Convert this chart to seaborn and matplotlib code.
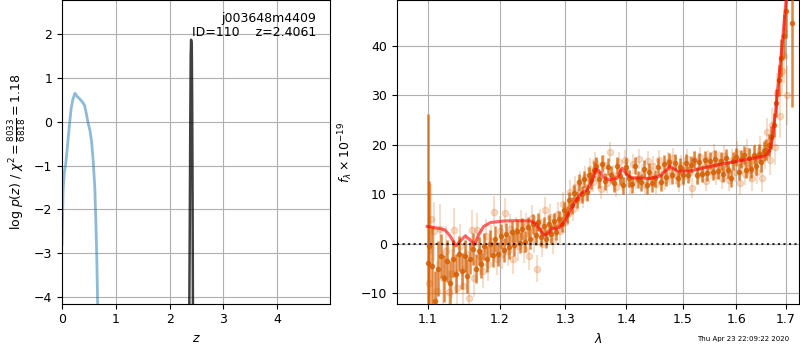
import numpy as np
import pandas as pd
import matplotlib
matplotlib.use("Agg")
import matplotlib.pyplot as plt
import matplotlib.ticker as mticker
import seaborn as sns

plt.rcParams['font.size'] = 9
plt.rcParams['font.family'] = ['DejaVu Sans']

# ---------------- left panel: redshift PDF ----------------
pz_blue_z = [0.00, 0.02, 0.04, 0.07, 0.11, 0.14, 0.17, 0.20, 0.24, 0.28, 0.33, 0.38,
             0.42, 0.45, 0.48, 0.52, 0.55, 0.58, 0.61, 0.63, 0.645, 0.66, 0.67]
pz_blue_lp = [-2.8, -1.6, -1.2, -0.95, -0.45, -0.05, 0.3, 0.5, 0.65, 0.58, 0.52, 0.45,
              0.37, 0.2, 0.0, -0.2, -0.45, -0.9, -1.5, -2.3, -3.0, -4.0, -4.6]
pz_black_z = [2.365, 2.375, 2.385, 2.393, 2.400, 2.407, 2.413, 2.420, 2.427, 2.435]
pz_black_lp = [-4.6, -2.5, 0.0, 1.5, 1.87, 1.8, 1.72, 0.5, -1.5, -4.6]
z_ticks = [0, 1, 2, 3, 4]
title_text = 'j003648m4409\nID=110    z=2.4061'

# ---------------- right panel: 1D spectrum ----------------
bin_wave = [1.100, 1.102, 1.106, 1.110, 1.114, 1.118, 1.122, 1.126, 1.130, 1.134, 1.138, 1.142,
            1.146, 1.150, 1.154, 1.158, 1.162, 1.166, 1.170, 1.174, 1.178, 1.182, 1.186, 1.190,
            1.194, 1.198, 1.202, 1.206, 1.210, 1.214, 1.218, 1.222, 1.226, 1.230, 1.234, 1.238,
            1.242, 1.246, 1.250, 1.254, 1.258, 1.262, 1.266, 1.270, 1.274, 1.278, 1.282, 1.286,
            1.290, 1.294, 1.298, 1.302, 1.306, 1.310, 1.314, 1.318, 1.322, 1.326, 1.330, 1.334,
            1.338, 1.342, 1.346, 1.350, 1.355, 1.360, 1.365, 1.370, 1.375, 1.380, 1.385, 1.390,
            1.395, 1.400, 1.405, 1.410, 1.415, 1.420, 1.425, 1.430, 1.435, 1.440, 1.445, 1.450,
            1.455, 1.460, 1.465, 1.470, 1.475, 1.480, 1.485, 1.490, 1.495, 1.500, 1.505, 1.510,
            1.515, 1.520, 1.525, 1.530, 1.535, 1.540, 1.545, 1.550, 1.555, 1.560, 1.565, 1.570,
            1.575, 1.580, 1.585, 1.590, 1.595, 1.600, 1.605, 1.610, 1.615, 1.620, 1.625, 1.630,
            1.635, 1.640, 1.645, 1.650, 1.655, 1.660, 1.665, 1.670, 1.675, 1.680, 1.685, 1.690,
            1.695, 1.700, 1.712]
bin_flux = [-3.9, -0.5, -4.5, -11.5, -5.0, -2.5, -7.0, -3.5, -8.0, -3.0, -6.0, -2.0,
            -5.5, -2.5, -6.5, -3.0, -1.0, -5.0, -1.5, -4.0, -0.5, -3.0, 0.0, -2.2,
            1.0, -2.0, 1.5, -1.2, 2.0, -0.6, 2.4, -0.2, 2.6, 0.2, 3.0, 0.4,
            3.4, 1.0, 4.0, 1.8, 4.4, 1.4, 3.6, 1.0, 4.0, 2.0, 4.6, 2.4,
            5.0, 4.0, 6.8, 6.0, 8.8, 7.8, 10.2, 9.0, 12.4, 10.0, 13.0, 10.4,
            13.8, 12.8, 15.0, 15.8, 13.0, 16.2, 12.6, 15.6, 14.0, 12.2, 15.8, 13.6,
            11.8, 15.6, 13.2, 12.0, 15.8, 13.0, 12.4, 15.2, 11.8, 14.6, 12.2, 13.2,
            15.6, 12.4, 16.2, 13.4, 16.6, 13.8, 16.4, 13.2, 15.6, 13.8, 16.4, 14.0,
            16.0, 17.0, 13.8, 16.6, 14.2, 17.0, 14.4, 16.8, 14.6, 17.2, 14.8, 16.8,
            14.2, 17.4, 15.0, 13.2, 16.8, 17.6, 14.6, 17.2, 18.0, 15.0, 17.4, 15.2,
            18.0, 15.8, 18.2, 16.6, 18.8, 19.0, 20.0, 21.5, 24.0, 28.5, 33.0, 37.5,
            42.0, 47.0, 44.7]
bin_err = [30.2, 13.2, 8.0, 6.0, 5.5, 4.5, 4.8, 4.2, 4.5, 3.8, 4.0, 3.5,
           3.6, 3.2, 3.4, 3.0, 3.2, 3.0, 2.8, 2.9, 2.7, 2.6, 2.7, 2.5,
           2.6, 2.4, 2.5, 2.4, 2.3, 2.4, 2.2, 2.3, 2.2, 2.1, 2.2, 2.1,
           2.0, 2.1, 2.0, 2.0, 1.9, 1.9, 1.8, 1.9, 1.8, 1.8, 1.7, 1.7,
           1.7, 1.7, 1.7, 1.7, 1.7, 1.7, 1.7, 1.7, 1.7, 1.7, 1.7, 1.7,
           1.7, 1.7, 1.7, 1.7, 1.7, 1.7, 1.7, 1.7, 1.7, 1.7, 1.7, 1.7,
           1.7, 1.7, 1.7, 1.7, 1.7, 1.7, 1.7, 1.7, 1.7, 1.7, 1.7, 1.7,
           1.7, 1.7, 1.7, 1.7, 1.7, 1.7, 1.7, 1.7, 1.7, 1.7, 1.7, 1.7,
           1.7, 1.7, 1.7, 1.7, 1.7, 1.7, 1.7, 1.7, 1.7, 1.7, 1.8, 1.8,
           1.8, 1.8, 1.8, 1.8, 1.8, 1.8, 1.8, 1.8, 1.8, 1.8, 1.9, 1.9,
           1.9, 1.9, 1.9, 2.0, 2.0, 2.1, 2.2, 2.3, 2.5, 2.8, 3.2, 3.8,
           4.5, 5.5, 17.0]

raw_wave = [1.101, 1.104, 1.108, 1.112, 1.116, 1.120, 1.124, 1.128, 1.132, 1.136, 1.140, 1.144,
            1.148, 1.152, 1.156, 1.160, 1.164, 1.168, 1.172, 1.176, 1.180, 1.184, 1.188, 1.192,
            1.196, 1.200, 1.204, 1.208, 1.212, 1.216, 1.220, 1.224, 1.228, 1.232, 1.236, 1.240,
            1.244, 1.248, 1.252, 1.256, 1.260, 1.264, 1.268, 1.272, 1.276, 1.280, 1.284, 1.288,
            1.292, 1.296, 1.300, 1.304, 1.308, 1.312, 1.316, 1.320, 1.324, 1.328, 1.332, 1.336,
            1.340, 1.344, 1.348, 1.352, 1.357, 1.362, 1.367, 1.372, 1.377, 1.382, 1.387, 1.392,
            1.397, 1.402, 1.407, 1.412, 1.417, 1.422, 1.427, 1.432, 1.437, 1.442, 1.447, 1.452,
            1.457, 1.462, 1.467, 1.472, 1.477, 1.482, 1.487, 1.492, 1.497, 1.502, 1.507, 1.512,
            1.517, 1.522, 1.527, 1.532, 1.537, 1.542, 1.547, 1.552, 1.557, 1.562, 1.567, 1.572,
            1.577, 1.582, 1.587, 1.592, 1.597, 1.602, 1.607, 1.612, 1.617, 1.622, 1.627, 1.632,
            1.637, 1.642, 1.647, 1.652, 1.657, 1.662, 1.667, 1.672, 1.677, 1.682, 1.687, 1.692,
            1.697, 1.702]
raw_flux = [-8.0, 5.0, 2.5, -9.5, 3.0, -7.0, -1.5, -9.8, -6.0, 2.8, -9.0, -0.5,
            -8.5, -2.0, -11.0, 2.8, -7.0, 2.8, -2.5, -5.5, 1.5, -4.0, 0.5, 6.5,
            -3.0, 2.5, -2.0, 6.2, -1.5, 3.0, -3.0, 2.5, -0.5, 4.0, -1.0, 3.5,
            -2.5, 5.2, 0.8, -5.0, 4.5, 0.0, 6.8, 2.0, 5.5, 0.5, 3.8, 6.0,
            2.5, 8.0, 4.5, 6.0, 10.5, 7.0, 11.5, 8.8, 12.5, 9.5, 13.5, 11.0,
            15.2, 12.5, 16.5, 13.2, 11.0, 16.0, 12.2, 18.5, 14.0, 11.5, 16.5, 12.8,
            17.0, 14.5, 12.0, 16.2, 13.0, 17.2, 14.2, 11.8, 16.8, 13.6, 15.8, 12.0,
            17.0, 14.2, 12.8, 16.6, 13.8, 17.4, 14.0, 12.4, 16.0, 13.6, 17.2, 14.6,
            11.2, 16.8, 13.8, 17.6, 14.4, 12.6, 17.0, 15.0, 18.2, 14.0, 16.6, 13.2,
            17.8, 15.2, 12.8, 17.0, 14.6, 18.4, 12.2, 16.4, 14.2, 18.8, 15.0, 13.2,
            17.6, 14.6, 19.0, 13.2, 18.0, 22.5, 17.0, 24.0, 19.5, 30.5, 25.8, 35.0,
            38.0, 30.0]
raw_err = [9.0, 7.0, 6.0, 6.0, 5.0, 5.5, 5.0, 4.5, 5.0, 4.5, 4.0, 4.5,
           4.0, 4.0, 4.0, 4.0, 3.8, 3.5, 3.8, 3.5, 3.5, 3.5, 3.4, 3.2,
           3.3, 3.2, 3.0, 3.0, 3.0, 3.0, 3.0, 2.9, 2.9, 2.8, 2.8, 2.8,
           2.8, 2.7, 2.7, 2.7, 2.6, 2.6, 2.6, 2.5, 2.5, 2.5, 2.5, 2.4,
           2.4, 2.4, 2.3, 2.3, 2.3, 2.3, 2.2, 2.2, 2.2, 2.2, 2.2, 2.1,
           2.1, 2.1, 2.1, 2.1, 2.0, 2.0, 2.0, 2.0, 2.0, 2.0, 2.0, 2.0,
           2.0, 2.0, 2.0, 2.0, 2.0, 2.0, 2.0, 2.0, 2.0, 2.0, 2.0, 2.0,
           2.0, 2.0, 2.0, 2.0, 2.0, 2.0, 2.0, 2.0, 2.0, 2.0, 2.0, 2.0,
           2.0, 2.0, 2.0, 2.0, 2.0, 2.0, 2.0, 2.0, 2.0, 2.1, 2.1, 2.1,
           2.1, 2.1, 2.2, 2.2, 2.2, 2.3, 2.3, 2.3, 2.4, 2.4, 2.5, 2.5,
           2.6, 2.6, 2.7, 2.8, 2.9, 3.0, 3.2, 3.4, 3.6, 4.0, 4.5, 5.0,
           5.5, 6.0]

model_wave = [1.099, 1.112, 1.123, 1.130, 1.138, 1.145, 1.151, 1.157, 1.164, 1.170, 1.177, 1.187,
              1.206, 1.226, 1.246, 1.253, 1.261, 1.267, 1.274, 1.279, 1.284, 1.292, 1.300, 1.308,
              1.318, 1.326, 1.335, 1.342, 1.349, 1.354, 1.362, 1.373, 1.384, 1.393, 1.401, 1.410,
              1.424, 1.441, 1.459, 1.467, 1.476, 1.483, 1.491, 1.513, 1.537, 1.562, 1.588, 1.614,
              1.640, 1.654, 1.662, 1.667, 1.671, 1.675, 1.681, 1.686, 1.691, 1.696, 1.701]
model_flux = [3.5, 3.2, 2.8, 1.6, -0.4, 0.7, 1.6, 0.9, -0.2, 1.8, 3.5, 4.3,
              4.6, 4.7, 4.6, 4.2, 2.8, 1.7, 2.2, 3.2, 3.0, 3.4, 4.8, 6.8,
              8.9, 10.3, 10.9, 12.4, 15.1, 14.8, 13.4, 12.9, 13.2, 15.3, 14.0, 13.3,
              13.3, 13.2, 13.7, 14.6, 15.7, 15.2, 14.7, 14.7, 15.3, 15.9, 16.4, 16.9,
              17.4, 17.7, 18.1, 18.8, 20.5, 23.5, 29.0, 34.0, 39.0, 44.5, 50.0]

wave_ticks = [1.1, 1.2, 1.3, 1.4, 1.5, 1.6, 1.7]
wave_ticklabels = ['1.1', '1.2', '1.3', '1.4', '1.5', '1.6', '1.7']
timestamp = 'Thu Apr 23 22:09:22 2020'

G141 = '#d55e00'

fig = plt.figure(figsize=(8, 3.5), dpi=100)
ax1 = fig.add_axes([0.0775, 0.1323, 0.3355, 0.8669])
ax2 = fig.add_axes([0.4959, 0.1323, 0.5033, 0.8669])

# ---- left ----
sns.lineplot(x=pz_blue_z, y=pz_blue_lp, ax=ax1, color='C0', alpha=0.5, lw=2,
             sort=False, estimator=None)
sns.lineplot(x=pz_black_z, y=pz_black_lp, ax=ax1, color='k', alpha=0.75, lw=1.8,
             sort=False, estimator=None)
ax1.set_xlim(0, 4.99)
ax1.set_ylim(-4.15, 2.77)
ax1.set_xticks(z_ticks)
ax1.grid(True)
ax1.set_axisbelow(True)
ax1.set_xlabel(r'$z$')
ax1.set_ylabel(r'log $p(z)$ / $\chi^2=\frac{8033}{6818}=1.18$')
ax1.text(0.948, 0.962, title_text, ha='right', va='top', transform=ax1.transAxes,
         fontsize=9, linespacing=1.15)

# ---- right ----
ax2.set_xscale('log')
ax2.errorbar(raw_wave, raw_flux, yerr=raw_err, fmt='o', color=G141, alpha=0.2,
             ms=4.5, elinewidth=1.5, zorder=2)
ax2.errorbar(bin_wave, bin_flux, yerr=bin_err, fmt='o', color=G141, alpha=0.75,
             ms=3.0, elinewidth=1.8, zorder=3)
sns.lineplot(x=model_wave, y=model_flux, ax=ax2, color='r', alpha=0.6, lw=2.2,
             sort=False, estimator=None, zorder=4)
ax2.axhline(0, color='k', ls=':', lw=1.5, alpha=0.8, zorder=5)
ax2.set_xlim(1.059, 1.728)
ax2.set_ylim(-12.1, 49.2)
ax2.xaxis.set_major_locator(mticker.FixedLocator(wave_ticks))
ax2.xaxis.set_major_formatter(mticker.FixedFormatter(wave_ticklabels))
ax2.xaxis.set_minor_locator(mticker.NullLocator())
ax2.grid(True)
ax2.set_axisbelow(True)
ax2.set_xlabel(r'$\lambda$')
ax2.set_ylabel(r'$f_\lambda \times 10^{-19}$')

fig.text(0.871, 0.031, timestamp, fontsize=5, ha='left', va='center')

fig.savefig('out.png', dpi=100)
